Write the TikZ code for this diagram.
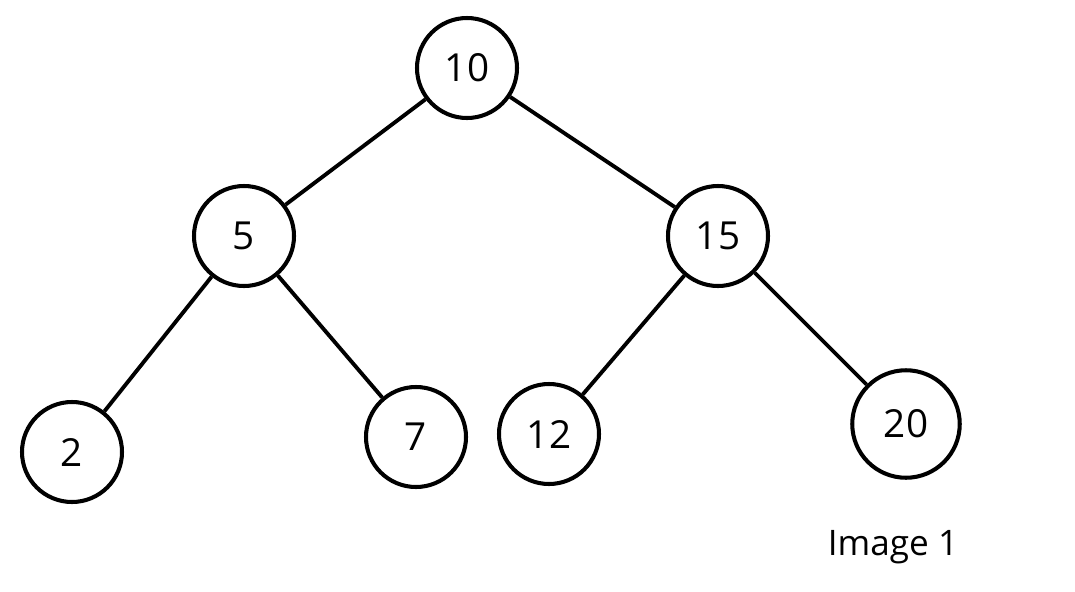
\documentclass[tikz,border=0pt]{standalone}
\usepackage{fontspec}
\setmainfont{Open Sans}
\usepackage{tikz}
\usetikzlibrary{shapes,positioning}
\tikzset{nd/.style={circle,draw,line width=2.3pt,minimum size=2cm,inner sep=0pt,font=\fontsize{22}{26}\selectfont}}

\begin{document}
\begin{tikzpicture}[line width=2.2pt]
        \useasboundingbox (0,0) rectangle (21.5,11.82);
        \node[nd] (n10) at (9.34,10.46) {10};
        \node[nd] (n5) at (4.88,7.10) {5};
        \node[nd] (n15) at (14.36,7.10) {15};
        \node[nd] (n2) at (1.44,2.78) {2};
        \node[nd] (n7) at (8.32,3.08) {7};
        \node[nd] (n12) at (10.98,3.14) {12};
        \node[nd,minimum size=2.15cm] (n20) at (18.12,3.34) {20};
        \node[font=\fontsize{20}{24}\selectfont] (cap) at (17.86,0.88) {Image 1};

        \draw (n10) to [] (n5);
        \draw (n10) to [] (n15);
        \draw (n5) to [] (n2);
        \draw (n5) to [] (n7);
        \draw (n15) to [] (n12);
        \draw (n15) to [] (n20);
    \end{tikzpicture}
\end{document}
